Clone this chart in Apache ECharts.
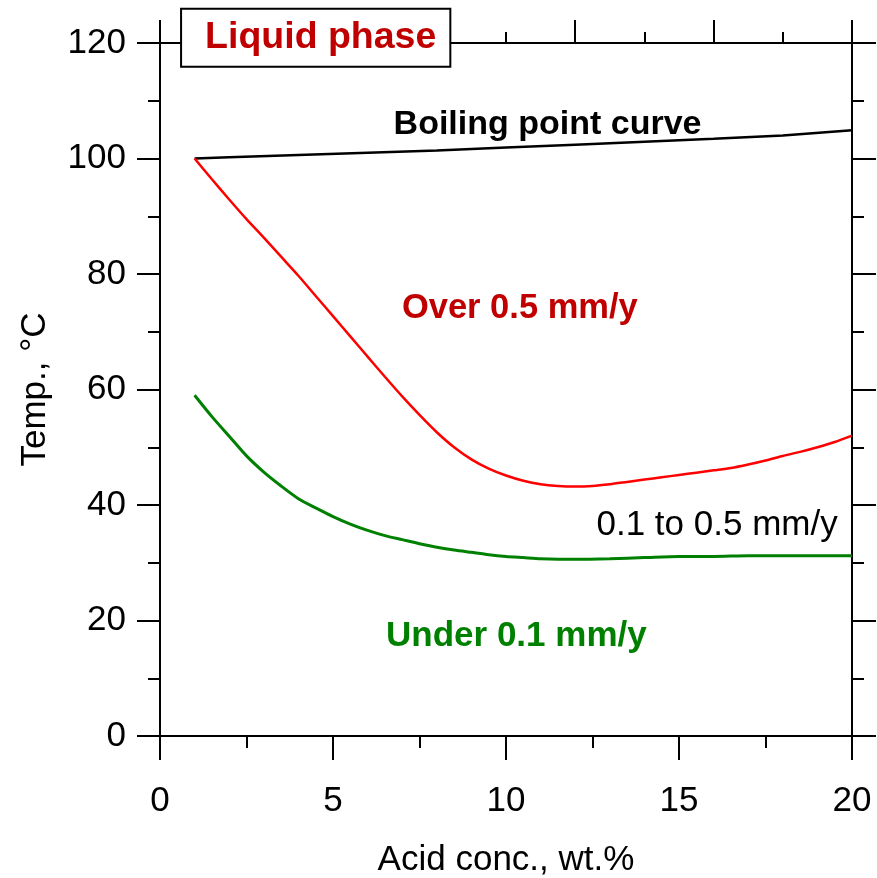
<!DOCTYPE html>
<html>
<head>
<meta charset="utf-8">
<script src="https://cdn.jsdelivr.net/npm/echarts@6/dist/echarts.min.js"></script>
<style>html,body{margin:0;padding:0;background:#fff}#c{width:877px;height:878px}</style>
</head>
<body>
<div id="c"></div>
<script>
// Boiling point curve
const boilX = [1, 2, 4, 6, 8, 10, 12, 14, 16, 18, 20];
const boilT = [100, 100.2, 100.6, 101, 101.4, 101.9, 102.4, 102.9, 103.4, 104, 104.9];
// 0.5 mm/y iso-corrosion curve (red)
const redX = [1,1.5,2,2.5,3,3.5,4,4.5,5,5.5,6,6.5,7,7.5,8,8.5,9,9.5,10,10.5,11,11.5,12,12.5,13,13.5,14,14.5,15,15.5,16,16.5,17,17.5,18,18.5,19,19.5,20];
const redT = [100,96.4,92.9,89.5,86.3,83,79.7,76.2,72.7,69.2,65.7,62.2,58.8,55.6,52.6,50,47.9,46.3,45.1,44.2,43.6,43.3,43.2,43.3,43.6,44,44.4,44.8,45.2,45.6,46,46.4,47,47.7,48.5,49.2,50,50.9,52];
// 0.1 mm/y iso-corrosion curve (green)
const greenX = [1,1.5,2,2.5,3,3.5,4,4.5,5,5.5,6,6.5,7,7.5,8,8.5,9,9.5,10,10.5,11,12,13,14,15,16,17,18,19,20];
const greenT = [59,55.3,51.9,48.5,45.7,43.3,41.1,39.5,38,36.7,35.6,34.7,34,33.3,32.7,32.2,31.8,31.4,31.1,30.9,30.7,30.6,30.7,30.9,31.1,31.1,31.2,31.2,31.2,31.2];
// Annotations
const annoText = ['Liquid phase', 'Boiling point curve', 'Over 0.5 mm/y', '0.1 to 0.5 mm/y', 'Under 0.1 mm/y'];
const annoX = [4.5, 11.2, 10.4, 16.1, 10.3];
const annoY = [120.9, 105.9, 74.0, 36.5, 17.2];
// Ticks
const xTicks = [0, 5, 10, 15, 20];
const yTicks = [0, 20, 40, 60, 80, 100, 120];

const FONT = '"Liberation Sans", Arial, sans-serif';
const pairs = (xs, ys) => xs.map((x, i) => [x, ys[i]]);

const annoStyles = [
  {color: '#c00000', fontWeight: 'bold', fontSize: 37.5, backgroundColor: '#fff', borderColor: '#000', borderWidth: 2, padding: [10, 13, 8, 23]},
  {color: '#000', fontWeight: 'bold', fontSize: 34},
  {color: '#c00000', fontWeight: 'bold', fontSize: 34.5},
  {color: '#000', fontWeight: 'normal', fontSize: 35},
  {color: '#008000', fontWeight: 'bold', fontSize: 35}
];

const axisLineStyle = {onZero: false, lineStyle: {color: '#000', width: 2}};
const chart = echarts.init(document.getElementById('c'));
chart.setOption({
  animation: false,
  backgroundColor: '#fff',
  grid: {left: 160, right: 25, top: 43, bottom: 142, containLabel: false, outerBoundsMode: 'none'},
  xAxis: [
    {type: 'value', position: 'bottom', min: xTicks[0], max: xTicks[xTicks.length - 1], interval: 5,
     axisLine: axisLineStyle, splitLine: {show: false},
     axisTick: {show: true, inside: false, length: 24, lineStyle: {color: '#000', width: 2}},
     minorTick: {show: true, splitNumber: 2, length: 12, lineStyle: {color: '#000', width: 2}},
     axisLabel: {fontSize: 35, color: '#000', fontFamily: FONT, margin: 48},
     name: 'Acid conc., wt.%', nameLocation: 'middle', nameGap: 107,
     nameTextStyle: {fontSize: 35, color: '#000', fontFamily: FONT}},
    {type: 'value', position: 'top', min: 0, max: 20, interval: 4,
     axisLine: axisLineStyle, splitLine: {show: false},
     axisTick: {show: true, inside: false, length: 23, lineStyle: {color: '#000', width: 2}},
     minorTick: {show: true, splitNumber: 2, length: 11, lineStyle: {color: '#000', width: 2}},
     axisLabel: {show: false}}
  ],
  yAxis: [
    {type: 'value', position: 'left', min: yTicks[0], max: yTicks[yTicks.length - 1], interval: 20,
     axisLine: axisLineStyle, splitLine: {show: false},
     axisTick: {show: true, inside: false, length: 23, lineStyle: {color: '#000', width: 2}},
     minorTick: {show: true, splitNumber: 2, length: 12, lineStyle: {color: '#000', width: 2}},
     axisLabel: {fontSize: 35, color: '#000', fontFamily: FONT, margin: 34},
     name: 'Temp., °C', nameLocation: 'middle', nameGap: 107,
     nameTextStyle: {fontSize: 35, color: '#000', fontFamily: FONT}},
    {type: 'value', position: 'right', min: 0, max: 120, interval: 20,
     axisLine: axisLineStyle, splitLine: {show: false},
     axisTick: {show: true, inside: false, length: 24, lineStyle: {color: '#000', width: 2}},
     minorTick: {show: true, splitNumber: 2, length: 12, lineStyle: {color: '#000', width: 2}},
     axisLabel: {show: false}}
  ],
  series: [
    {type: 'line', name: 'Boiling point', data: pairs(boilX, boilT), showSymbol: false, symbol: 'none',
     lineStyle: {color: '#000', width: 2.5}, z: 3},
    {type: 'line', name: '0.5 mm/y', data: pairs(redX, redT), showSymbol: false, symbol: 'none', smooth: 0.25,
     lineStyle: {color: '#ff0000', width: 2.5}, z: 3},
    {type: 'line', name: '0.1 mm/y', data: pairs(greenX, greenT), showSymbol: false, symbol: 'none', smooth: 0.25,
     lineStyle: {color: '#008000', width: 3}, z: 3},
    {type: 'scatter', silent: true, clip: false, symbolSize: 0, itemStyle: {color: '#000'}, z: 10,
     data: annoText.map((t, i) => ({
       value: [annoX[i], annoY[i]],
       label: Object.assign({show: true, position: 'inside', formatter: t, fontFamily: FONT,
                             textBorderWidth: 0, opacity: 1}, annoStyles[i])
     }))}
  ]
});
</script>
</body>
</html>
